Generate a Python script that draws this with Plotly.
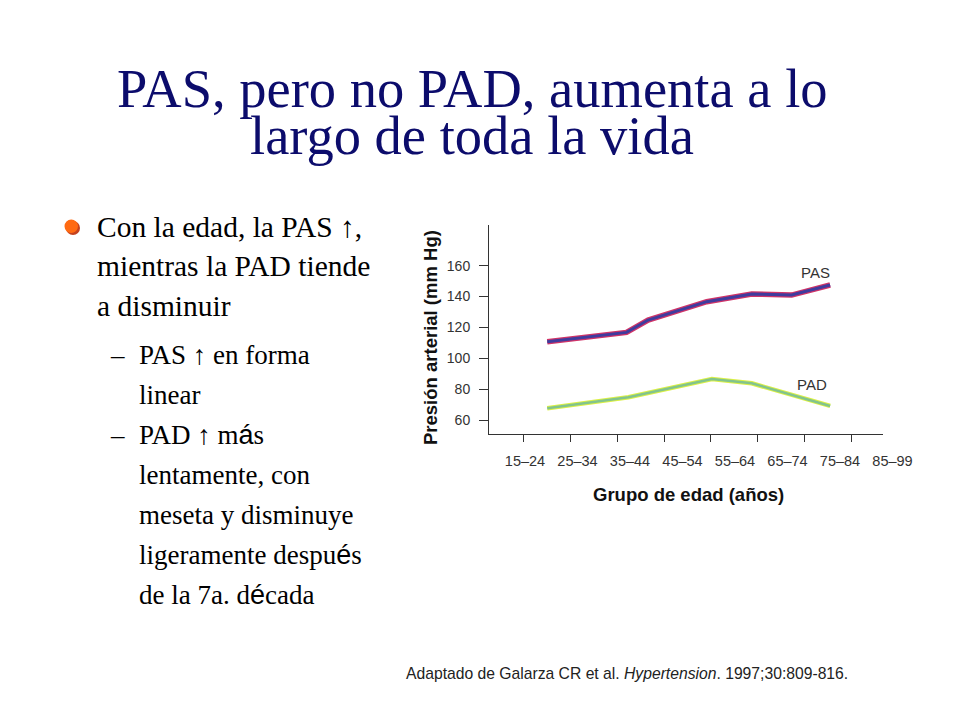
import plotly.graph_objects as go

# data
age_groups = ["15–24", "25–34", "35–44", "45–54", "55–64", "65–74", "75–84", "85–99"]
tick_ages = [15, 25, 35, 45, 55, 65, 75, 85]
y_ticks = [60, 80, 100, 120, 140, 160]

pas_age = [20.1, 37.0, 41.6, 47.5, 54.1, 63.7, 72.2, 80.4]
pas_mmhg = [110.7, 116.8, 124.8, 130.2, 136.7, 141.7, 141.0, 147.5]

pad_age = [20.1, 37.4, 55.2, 63.7, 80.4]
pad_mmhg = [67.6, 74.7, 86.6, 83.8, 69.1]

SANS = "Liberation Sans, Arial, sans-serif"
SERIF = "Liberation Serif, Times New Roman, serif"

# the page body keeps its default 8px margin, so the figure is a bit smaller
# than the window and every pixel position below is measured on the window
OFF = 8
W, H = 960 - 2 * OFF, 720 - 2 * OFF


def px_x(p):
    return (p - OFF) / W


def px_y(p):
    return 1 - (p - OFF) / H


fig = go.Figure()

# age group labels sit on their own category axis (spaced wider than the ticks)
fig.add_trace(go.Scatter(x=age_groups, y=[None] * len(age_groups), xaxis="x2",
                         mode="markers", hoverinfo="skip"))
# each line is drawn twice: a wide coloured edge under a thinner core
fig.add_trace(go.Scatter(x=pas_age, y=pas_mmhg, mode="lines",
                         line=dict(color="#d03468", width=5.5), hoverinfo="skip"))
fig.add_trace(go.Scatter(x=pas_age, y=pas_mmhg, mode="lines", name="PAS",
                         line=dict(color="#3f3c9e", width=3)))
fig.add_trace(go.Scatter(x=pad_age, y=pad_mmhg, mode="lines",
                         line=dict(color="#dcf046", width=4.5), hoverinfo="skip"))
fig.add_trace(go.Scatter(x=pad_age, y=pad_mmhg, mode="lines", name="PAD",
                         line=dict(color="#82c48c", width=2.5)))

annotations = [
    dict(text="PAS, pero no PAD, aumenta a lo", x=px_x(472), y=px_y(88),
         font=dict(family=SERIF, size=54.5, color="#0c0c6c")),
    dict(text="largo de toda la vida", x=px_x(472), y=px_y(135),
         font=dict(family=SERIF, size=54.5, color="#0c0c6c")),
    dict(text="PAS", x=px_x(815), y=px_y(272), font=dict(family=SANS, size=15, color="#333")),
    dict(text="PAD", x=px_x(812), y=px_y(384), font=dict(family=SANS, size=15, color="#333")),
    dict(text="<b>Presión arterial (mm Hg)</b>", x=px_x(430), y=px_y(338), textangle=-90,
         font=dict(family=SANS, size=18.5, color="#111")),
    dict(text="<b>Grupo de edad (años)</b>", x=px_x(688), y=px_y(494),
         font=dict(family=SANS, size=18.5, color="#111")),
    dict(text="Adaptado de Galarza CR et al. <i>Hypertension</i>. 1997;30:809-816.",
         x=px_x(627), y=px_y(673), font=dict(family=SANS, size=15.7, color="#222")),
]

bullet_lines = [
    (95, 227, 29.5, "Con la edad, la PAS ↑,"),
    (95, 266, 29.5, "mientras la PAD tiende"),
    (95, 306, 29.5, "a disminuir"),
    (108, 355, 27, "–"),
    (137, 355, 27, "PAS ↑ en forma"),
    (137, 395, 27, "linear"),
    (108, 435, 27, "–"),
    (137, 435, 27, "PAD ↑ m<span style=\"font-family:Liberation Sans\">á</span>s"),
    (137, 475, 27, "lentamente, con"),
    (137, 515, 27, "meseta y disminuye"),
    (137, 555, 27, "ligeramente despu<span style=\"font-family:Liberation Sans\">é</span>s"),
    (137, 595, 27, "de la 7a. d<span style=\"font-family:Liberation Sans\">é</span>cada"),
]
for x, y, size, txt in bullet_lines:
    annotations.append(dict(text=txt, x=px_x(x), y=px_y(y), xanchor="left",
                            font=dict(family=SERIF, size=size, color="#000")))

for a in annotations:
    a.setdefault("xanchor", "center")
    a.update(xref="paper", yref="paper", yanchor="middle", showarrow=False)

fig.update_layout(
    width=W, height=H,
    margin=dict(l=0, r=0, t=0, b=0),
    paper_bgcolor="white", plot_bgcolor="rgba(0,0,0,0)",
    showlegend=False,
    annotations=annotations,
    shapes=[
        dict(type="circle", xref="paper", yref="paper", line_width=0, fillcolor="#c4421e",
             x0=px_x(66), x1=px_x(80), y0=px_y(235), y1=px_y(221)),
        dict(type="circle", xref="paper", yref="paper", line_width=0, fillcolor="#ff6a12",
             x0=px_x(64.5), x1=px_x(78), y0=px_y(233), y1=px_y(219.5)),
    ],
    xaxis=dict(domain=[px_x(489), px_x(883)], range=[7.69, 91.67], anchor="y",
               showline=True, linecolor="#333", linewidth=1, ticks="outside", ticklen=7,
               tickcolor="#333", tickvals=tick_ages, showticklabels=False,
               showgrid=False, zeroline=False),
    xaxis2=dict(domain=[px_x(489), px_x(935)], range=[-0.6857, 7.8095], anchor="free",
                position=px_y(450), type="category", showline=False, ticks="",
                showgrid=False, zeroline=False,
                tickfont=dict(family=SANS, size=14.5, color="#333")),
    yaxis=dict(domain=[px_y(433.5), px_y(225)], range=[51.25, 186.4],
               showline=True, linecolor="#333", linewidth=1, ticks="outside", ticklen=9,
               tickcolor="#333", tickvals=y_ticks, ticklabelstandoff=6,
               tickfont=dict(family=SANS, size=14, color="#333"),
               showgrid=False, zeroline=False),
)

fig.write_html("out.html")
